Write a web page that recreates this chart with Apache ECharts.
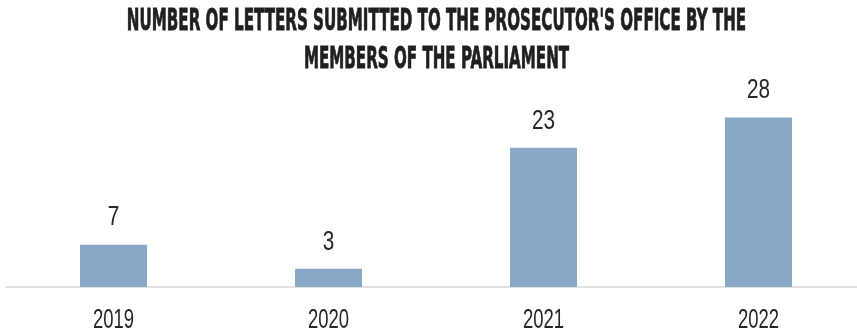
<!DOCTYPE html>
<html>
<head>
<meta charset="utf-8">
<script src="https://cdn.jsdelivr.net/npm/echarts@6/dist/echarts.min.js"></script>
<style>
  html, body { margin: 0; padding: 0; background: #fff; }
  #chart { width: 857px; height: 333px; }
</style>
</head>
<body>
<div id="chart"></div>
<script>
// Letters sent to the prosecutor's office by members of parliament, per year
const years = ['2019', '2020', '2021', '2022'];
const letters = [7, 3, 23, 28];
const titleLines = [
  "NUMBER OF LETTERS SUBMITTED TO THE PROSECUTOR'S OFFICE BY THE",
  'MEMBERS OF THE PARLIAMENT'
];

const TEXT_COLOR = '#262626';
const NUM_FONT = '28px "Liberation Sans", Arial, sans-serif';

// condensed number labels: value above each bar, year below the axis
function renderLabels(params, api) {
  const idx = api.value(0);
  const val = api.value(1);
  const top = api.coord([idx, val]);
  const base = api.coord([idx, 0]);
  return {
    type: 'group',
    silent: true,
    children: [{
      type: 'text',
      x: top[0],
      y: top[1] - 27,
      scaleX: 0.74,
      style: {
        text: String(val),
        font: NUM_FONT,
        fill: TEXT_COLOR,
        align: 'center',
        verticalAlign: 'middle'
      }
    }, {
      type: 'text',
      x: base[0],
      y: base[1] + 33.5,
      scaleX: 0.66,
      style: {
        text: years[idx],
        font: NUM_FONT,
        fill: TEXT_COLOR,
        align: 'center',
        verticalAlign: 'middle'
      }
    }]
  };
}

const chart = echarts.init(document.getElementById('chart'), null, { renderer: 'canvas' });

chart.setOption({
  animation: false,
  backgroundColor: '#ffffff',
  graphic: [{
    type: 'text',
    x: 436.5,
    y: 41,
    scaleX: 0.56,
    silent: true,
    style: {
      text: titleLines.join('\n'),
      font: 'bold 30px "DejaVu Sans Condensed", "DejaVu Sans", sans-serif',
      fill: '#1f1f1f',
      stroke: '#1f1f1f',
      lineWidth: 0.8,
      align: 'center',
      verticalAlign: 'middle',
      lineHeight: 38
    }
  }],
  grid: {
    left: 6, right: -9, top: 105.5, bottom: 46,
    containLabel: false,
    outerBoundsMode: 'none'
  },
  xAxis: {
    type: 'category',
    data: years,
    axisLine: { show: true, lineStyle: { color: '#d9d9d9', width: 1.5 } },
    axisTick: { show: false },
    axisLabel: { show: false }
  },
  yAxis: {
    type: 'value',
    min: 0,
    max: 30,
    show: false,
    splitLine: { show: false }
  },
  series: [{
    type: 'bar',
    data: letters,
    barWidth: 67,
    itemStyle: { color: '#8aa9c8' },
    label: { show: false }
  }, {
    type: 'custom',
    data: letters.map((v, i) => [i, v]),
    encode: { x: 0, y: 1 },
    renderItem: renderLabels,
    silent: true,
    z: 3
  }]
});
</script>
</body>
</html>
